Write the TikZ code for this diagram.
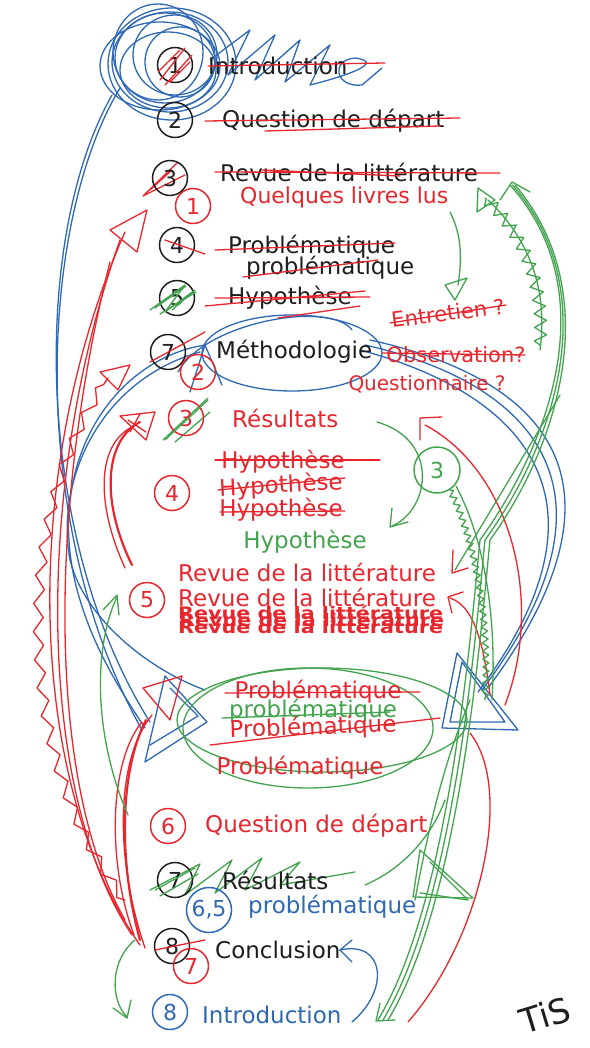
\documentclass[tikz,border=0pt]{standalone}
\usepackage{fontspec}
\setmainfont{DejaVu Sans}
\usetikzlibrary{arrows.meta,decorations.pathmorphing}
\definecolor{sr}{HTML}{E8262E}
\definecolor{sg}{HTML}{43A34F}
\definecolor{sb}{HTML}{2F69B3}
\definecolor{sk}{HTML}{1E1E1E}
\newcommand{\fsz}{\fontsize{23}{26}\selectfont}
\newcommand{\fsm}{\fontsize{21}{24}\selectfont}
\begin{document}
\begin{tikzpicture}[x=1pt,y=-1pt,line cap=round,line join=round,
  txt/.style={inner sep=0pt,font=\fsz,anchor=west},
  ctxt/.style={inner sep=0pt,font=\fsz},
  num/.style={circle,draw,line width=1.5pt,minimum size=35pt,inner sep=0pt,font=\fontsize{22}{25}\selectfont},
  pen/.style={line width=1.3pt},
  thick pen/.style={line width=2.2pt}]
\useasboundingbox (0,0) rectangle (589,1048);
\fill[white] (0,0) rectangle (589,1048);

% ---------- blue scribble top-left ----------
\foreach \cx/\cy/\rx/\ry in {170/62/58/50,165/58/50/45,175/55/42/40,160/66/60/44,180/62/35/35,168/70/48/38,158/52/45/48,172/64/64/56}
  \draw[sb,pen] (\cx,\cy) ellipse [x radius=\rx,y radius=\ry];
\draw[sb,pen] (210,60) -- (250,30) -- (228,75) -- (275,35) -- (255,80) -- (300,40) -- (285,82) -- (330,45) -- (310,85) .. controls (350,75) and (385,62) .. (355,58) .. controls (330,60) and (335,88) .. (362,85) -- (382,68);

% ---------- blue left curves ----------
\draw[sb,pen] (120,88) .. controls (40,220) and (25,520) .. (142,730);
\draw[sb,pen] (112,95) .. controls (30,240) and (35,540) .. (150,722);
\draw[sb,pen] (205,345) .. controls (110,360) and (40,470) .. (80,600) .. controls (95,650) and (120,690) .. (145,728);
\draw[sb,pen] (200,352) .. controls (100,380) and (55,480) .. (70,560) .. controls (85,620) and (150,670) .. (205,690);
% Methodologie ellipse
\draw[sb,pen] (292,353) ellipse [x radius=90,y radius=38];
\draw[sb,pen] (178,372) .. controls (205,322) and (330,300) .. (352,330);
\draw[sb,pen] (190,392) -- (205,345) -- (222,385);
% blue right big curves
\draw[sb,pen] (365,345) .. controls (520,380) and (640,480) .. (482,690);
\draw[sb,pen] (370,340) .. controls (530,375) and (650,470) .. (488,688);
\draw[sb,pen] (360,350) .. controls (510,390) and (630,490) .. (478,692);
% blue triangles
\draw[sb,pen] (457,653) -- (518,730) -- (442,728) -- cycle;
\draw[sb,pen] (462,662) -- (505,722) -- (450,722) -- cycle;
\draw[sb,pen] (165,676) -- (207,722) -- (145,762) -- cycle;
\draw[sb,pen] (170,688) -- (198,716) -- (150,745);
% blue bottom arc
\draw[sb,pen] (352,1022) .. controls (390,990) and (385,940) .. (340,950);
\draw[sb,pen] (352,940) -- (340,950) -- (352,962);

% ---------- red left curves ----------
\draw[sr,pen] (140,945) .. controls (25,780) and (20,470) .. (125,232);
\draw[sr,pen] (132,935) .. controls (35,790) and (35,480) .. (120,240);
\draw[sr,pen] (125,920) .. controls (45,780) and (50,500) .. (110,262);
\draw[sr,pen] (110,230) -- (147,210) -- (137,252) -- cycle;
\draw[sr,pen] (143,196) -- (178,162) (143,196) -- (185,175) (150,190) -- (172,170);
\draw[sr,pen,decorate,decoration={zigzag,segment length=28pt,amplitude=5pt}] (125,900) .. controls (15,760) and (10,520) .. (108,378);
\draw[sr,pen] (100,372) -- (130,365) -- (118,390) -- cycle;
% red 5 -> 3
\draw[sr,thick pen] (132,565) .. controls (100,500) and (105,440) .. (140,422);
\draw[sr,pen] (125,568) .. controls (94,500) and (98,442) .. (134,426);
\draw[sr,pen] (120,416) -- (155,412) -- (146,440) -- cycle;
\draw[sr,pen] (128,420) -- (146,432) (140,414) -- (130,432);
% red bundle bottom-left
\draw[sr,pen] (145,948) .. controls (115,860) and (115,760) .. (152,715);
\draw[sr,thick pen] (140,940) .. controls (118,860) and (120,770) .. (146,720);
\draw[sr,pen] (134,935) .. controls (106,860) and (110,760) .. (142,722);
\draw[sr,pen] (143,688) -- (182,676) -- (170,720) -- cycle;
% red right curves
\draw[sr,pen] (505,705) .. controls (545,600) and (510,470) .. (425,425);
\draw[sr,pen] (420,440) -- (420,418) -- (442,417);
\draw[sr,pen] (470,733) .. controls (515,790) and (480,940) .. (408,1022);
\draw[sr,pen] (490,695) .. controls (482,630) and (470,605) .. (450,598);
\draw[sr,pen] (452,613) -- (448,597) -- (463,592);
\draw[sr,pen] (453,550) -- (452,573) -- (468,568);

% ---------- green ----------
\foreach \d in {0,5,10}
  \draw[sg,pen] (378+\d,1020) .. controls (450+\d,900) and (470+\d,640) .. (480+\d,540) .. controls (552+\d,440) and (604,290) .. (510+\d/2,185);
\draw[sg,pen] (500,200) -- (512,182) -- (530,192);
\draw[sg,pen] (380,1003) -- (376,1021) -- (395,1020);
\draw[sg,pen,decorate,decoration={zigzag,segment length=14pt,amplitude=6pt}] (540,345) .. controls (545,280) and (520,230) .. (485,198);
\draw[sg,pen] (488,200) .. controls (530,240) and (548,290) .. (540,350);
\draw[sg,pen] (478,188) -- (495,200) -- (477,212) -- cycle;
\draw[sg,pen] (450,212) .. controls (462,235) and (462,260) .. (458,285);
\draw[sg,pen] (445,285) -- (467,278) -- (455,300) -- cycle;
\draw[sg,pen] (377,422) .. controls (440,440) and (430,510) .. (392,526);
\draw[sg,pen] (392,508) -- (390,527) -- (408,522);
\draw[sg,pen,decorate,decoration={zigzag,segment length=8pt,amplitude=3pt}] (450,490) .. controls (475,540) and (490,620) .. (485,700);
\draw[sg,pen] (456,486) .. controls (485,540) and (497,620) .. (492,700);
\draw[sg,pen] (560,395) -- (455,570);
% green ellipses
\draw[sg,pen] (308,728) ellipse [x radius=125,y radius=60];
\draw[sg,pen] (322,720) ellipse [x radius=145,y radius=52];
% green left arrows
\draw[sg,pen] (128,815) .. controls (95,740) and (92,650) .. (117,597);
\draw[sg,pen] (103,610) -- (117,595) -- (119,615);
\draw[sg,pen] (135,940) .. controls (110,960) and (110,1000) .. (127,1017);
\draw[sg,pen] (113,1008) -- (127,1018) -- (131,1000);
% green bottom right
\draw[sg,pen] (420,850) -- (473,898) -- (413,897) -- cycle;
\draw[sg,pen] (430,862) -- (468,900) -- (420,893);
\draw[sg,pen] (365,885) .. controls (400,870) and (430,840) .. (445,800);
\draw[sg,pen] (415,900) .. controls (430,820) and (445,760) .. (470,700);
% green scribbles
\draw[sg,pen] (163,440) -- (208,398) (175,442) -- (210,412);
\draw[sg,pen] (150,890) -- (200,864) -- (185,895) -- (232,860) -- (215,893) -- (262,858) -- (245,890) -- (300,862) -- (280,885) -- (355,872);

% ---------- numbered circles ----------
\node[num,sk] (c1) at (175,65) {1};
\draw[sr,pen] (160,80) -- (185,48) (165,85) -- (192,55) (158,72) -- (180,50) (170,82) -- (190,62);
\node[num,sk] (c2) at (175,120) {2};
\node[num,sk] (c3) at (170,178) {3};
\node[num,sr,fill=white] (r1) at (193,206) {1};
\node[num,sk] (c4) at (177,245) {4};
\draw[sr,pen] (165,240) -- (205,254);
\node[num,sk] (c5) at (177,298) {5};
\draw[sg,pen] (150,310) -- (185,285) -- (165,312) -- (195,290) -- (172,310);
\draw[sg,pen] (155,308) -- (186,286) (160,314) -- (196,292);
\node[num,sk] (c6) at (168,352) {7};
\draw[sr,pen] (150,362) -- (205,332);
\node[num,sr] (r2) at (198,372) {2};
\node[num,sr] (r3) at (186,418) {3};
\draw[sg,pen] (165,440) -- (208,400);
\node[num,sr] (r4) at (172,493) {4};
\node[num,sg,minimum size=46pt] (g3) at (437,470) {3};
\node[num,sr] (r5) at (147,600) {5};
\node[num,sr] (r6) at (168,826) {6};
\node[num,sk] (c7) at (175,880) {7};
\draw[sg,pen] (155,890) -- (195,868) (160,896) -- (198,874);
\node[num,sb,minimum size=45pt] (b65) at (209,910) {6,5};
\node[num,sk] (c8) at (172,946) {8};
\draw[sr,pen] (155,950) -- (205,940);
\node[num,sr] (r7) at (191,966) {7};
\node[num,sb] (b8) at (170,1012) {8};

% ---------- texts ----------
\node[txt,sk] (t1) at (208,66) {Introduction};
\draw[sr,pen] (t1.west) -- (385,63);
\node[txt,sk] (t2) at (222,121) {Question de départ};
\draw[sr,pen] (205,121) -- (460,118) (265,131) -- (440,126);
\node[txt,sk] (t3) at (220,172) {Revue de la littérature};
\draw[sr,pen] (215,172) -- (500,173) (262,170) -- (400,176);
\node[txt,sr,font=\fontsize{22}{25}\selectfont] (t1r) at (240,197) {Quelques livres lus};
\node[txt,sk] (t4) at (228,247) {Problématique};
\draw[sr,pen] (215,250) -- (395,243);
\node[txt,sk] (t4b) at (246,268) {problématique};
\draw[sr,pen] (243,277) -- (378,260);
\node[txt,sk] (t5) at (228,298) {Hypothèse};
\draw[sr,pen] (205,306) -- (365,291) (215,298) -- (370,297) (278,318) -- (360,306);
\node[txt,sk] (t7) at (216,352) {Méthodologie};
\node[ctxt,sr,rotate=7,font=\fsm] (ent) at (448,313) {Entretien ?};
\draw[sr,pen] (390,323) -- (506,305);
\node[ctxt,sr,font=\fsm] (obs) at (456,355) {Observation?};
\draw[sr,pen] (382,353) -- (525,355);
\node[ctxt,sr,font=\fontsize{20}{23}\selectfont] (que) at (427,384) {Questionnaire ?};
\node[txt,sr] (tr3) at (232,418) {Résultats};
\node[ctxt,sr] (h1) at (283,462) {Hypothèse};
\draw[sr,pen] (215,460) -- (380,460);
\node[ctxt,sr,rotate=3] (h2) at (281,486) {Hypothèse};
\draw[sr,pen] (218,490) -- (345,478);
\node[ctxt,sr] (h3) at (281,510) {Hypothèse};
\draw[sr,pen] (220,512) -- (345,511);
\node[ctxt,sg] (h4) at (305,542) {Hypothèse};
\node[txt,sr] (rv1) at (178,572) {Revue de la littérature};
\node[txt,sr] (rv2) at (178,597) {Revue de la littérature};
\node[txt,sr,font=\fsz\bfseries,yscale=0.75,xscale=0.9] (rv3) at (178,613) {Revue de la littérature};
\node[txt,sr,font=\fsz\bfseries,yscale=0.75,xscale=0.9] (rv4) at (179,620) {Revue de la littérature};
\node[txt,sr,font=\fsz\bfseries,yscale=0.75,xscale=0.9] (rv5) at (178,627) {Revue de la littérature};
\node[ctxt,sr] (p1) at (318,692) {Problématique};
\draw[sr,pen] (225,693) -- (420,692);
\node[ctxt,sg] (p2) at (313,711) {problématique};
\draw[sg,pen] (222,718) -- (390,712);
\node[ctxt,sr,rotate=2] (p3) at (313,728) {Problématique};
\draw[sr,pen] (210,745) -- (440,718);
\node[ctxt,sr] (p4) at (300,768) {Problématique};
\node[txt,sr] (q6) at (205,826) {Question de départ};
\node[txt,sk] (res7) at (222,880) {Résultats};
\node[txt,sb] (pb65) at (248,907) {problématique};
\node[txt,sk] (concl) at (215,950) {Conclusion};
\node[txt,sb] (intro8) at (202,1015) {Introduction};
\node[sk,rotate=17,font=\fontsize{34}{36}\selectfont] (tis) at (545,1015) {TiS};
\end{tikzpicture}
\end{document}
